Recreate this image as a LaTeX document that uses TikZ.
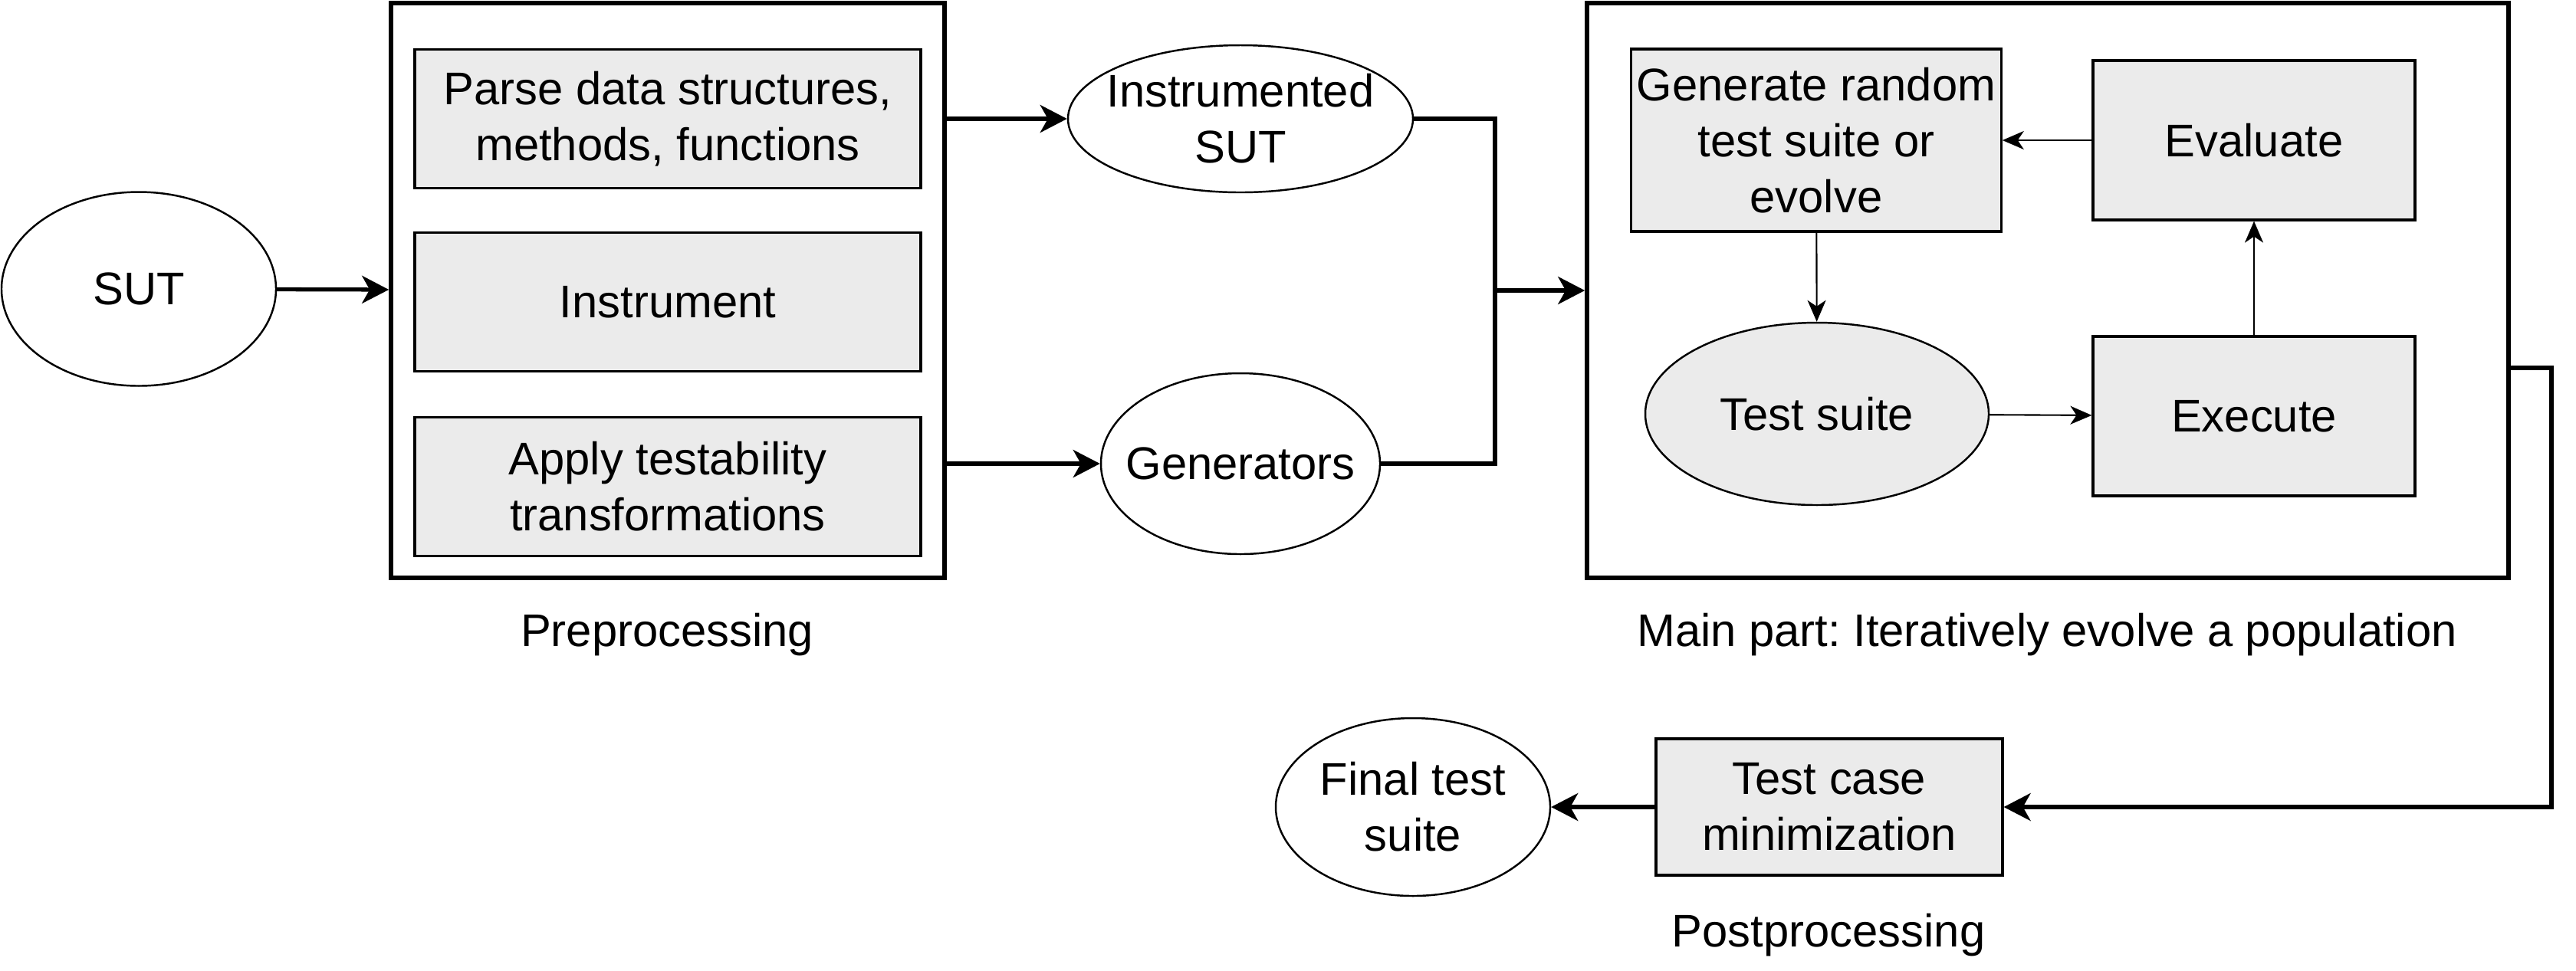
\documentclass[tikz,border=0pt]{standalone}
\usepackage{fontspec}
\setmainfont{Liberation Sans}
\usetikzlibrary{shapes.geometric,arrows.meta,positioning,calc}
\definecolor{taskcolor}{RGB}{235, 235, 235}
\frenchspacing

\begin{document}
\begin{tikzpicture}[
    every node/.append style={align=center, font=\fontsize{17}{20.8}\selectfont},
    frame/.style={draw, line width=1.6pt, inner sep=0pt},
    task/.style={draw, fill=taskcolor, line width=0.9pt, inner sep=2pt},
    artefact/.style={draw, ellipse, line width=0.7pt, inner sep=0pt},
    flow/.style={line width=1.5pt, -{Stealth[length=0.35cm, width=0.36cm, inset=0.1cm]}},
    cycle/.style={line width=0.6pt, -{Stealth[length=0.28cm, width=0.24cm, inset=0.08cm]}},
]
    \useasboundingbox (0,0) rectangle (33.6,-12.66);

    % Frames
    \node[frame, minimum width=7.22cm, minimum height=7.50cm] (pre) at (8.71,-3.79) {};
    \node[frame, minimum width=12.02cm, minimum height=7.50cm] (main) at (26.71,-3.79) {};

    % Preprocessing steps
    \node[task, minimum width=6.60cm, minimum height=1.81cm] (parse) at (8.71,-1.55) {Parse data structures,\\methods, functions};
    \node[task, minimum width=6.60cm, minimum height=1.81cm] (instrument) at (8.71,-3.94) {Instrument};
    \node[task, minimum width=6.60cm, minimum height=1.81cm] (apply) at (8.71,-6.35) {Apply testability\\transformations};

    % Artefacts
    \node[artefact, minimum width=3.58cm, minimum height=2.53cm] (sut) at (1.81,-3.77) {SUT};
    \node[artefact, inner xsep=-0.17cm, minimum width=4.50cm, minimum height=1.92cm] (instr) at (16.18,-1.55) {Instrumented\\SUT};
    \node[artefact, inner xsep=-0.22cm, minimum width=3.64cm, minimum height=2.36cm] (gen) at (16.18,-6.05) {Generators};

    % Main loop
    \node[task, minimum width=4.82cm, minimum height=2.38cm] (generate) at (23.69,-1.83) {Generate random\\test suite or\\evolve};
    \node[task, minimum width=4.20cm, minimum height=2.08cm] (evaluate) at (29.40,-1.83) {Evaluate};
    \node[artefact, fill=taskcolor, minimum width=4.48cm, minimum height=2.38cm] (suite) at (23.70,-5.40) {Test suite};
    \node[task, minimum width=4.20cm, minimum height=2.08cm] (execute) at (29.40,-5.43) {Execute};

    % Postprocessing
    \node[task, minimum width=4.52cm, minimum height=1.78cm] (testcase) at (23.86,-10.53) {Test case\\minimization};
    \node[artefact, minimum width=3.58cm, minimum height=2.32cm] (final) at (18.43,-10.53) {Final test\\suite};

    % Captions
    \node (prelabel) at (8.70,-8.28) {Preprocessing};
    \node (mainlabel) at (26.70,-8.28) {Main part: Iteratively evolve a population};
    \node (postlabel) at (23.85,-12.20) {Postprocessing};

    % Bend points
    \coordinate (join) at (19.50,-3.79);
    \coordinate (exit) at (33.28,-4.80);

    % Connections
    \draw[flow] (sut) -- (pre);
    \draw[flow] (pre.east |- instr.west) -- (instr.west);
    \draw[flow] (pre.east |- gen.west) -- (gen.west);
    \draw[line width=1.5pt] (instr.east) -| (join);
    \draw[line width=1.5pt] (gen.east) -| (join);
    \draw[flow] (join) -- (main.west);
    \draw[cycle] (evaluate) -- (generate);
    \draw[cycle] (generate) -- (suite);
    \draw[cycle] (suite) -- (execute);
    \draw[cycle] (execute) -- (evaluate);
    \draw[flow] (exit -| main.east) -- (exit) |- (testcase.east);
    \draw[flow] (testcase) -- (final);

\end{tikzpicture}
\end{document}
